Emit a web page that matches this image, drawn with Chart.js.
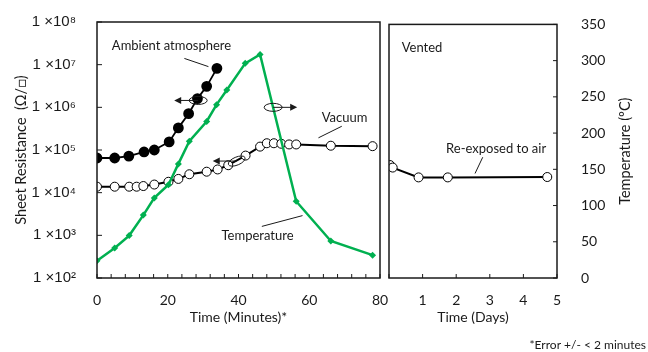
<!DOCTYPE html>
<html>
<head>
<meta charset="utf-8">
<script src="https://cdn.jsdelivr.net/npm/chart.js@4"></script>
<style>
html, body { margin: 0; padding: 0; background: #fff; }
#wrap { position: relative; width: 648px; height: 352px; }
canvas { position: absolute; left: 0; top: 0; }
</style>
</head>
<body>
<div id="wrap">
  <canvas id="js--left" width="648" height="352"></canvas>
  <canvas id="js--right" width="648" height="352"></canvas>
</div>
<script>
// sheet resistance in ambient atmosphere (minutes, ohm/sq)
var ambMin = [0, 5, 9, 13.3, 16.2, 20.4, 23, 25.9, 28.4, 31, 33.9];
var ambRes = [6.5e4, 6.5e4, 7.2e4, 9e4, 1.0e5, 1.55e5, 3.3e5, 7.1e5, 1.6e6, 3.1e6, 8.2e6];
// sheet resistance in vacuum
var vacMin = [0, 5, 9.1, 11.2, 13.1, 16.2, 20.2, 23, 26.1, 31, 34.1, 37.1, 42, 46.1, 48, 50, 52.1, 54.3, 56.3, 66.1, 77.9];
var vacRes = [1.38e4, 1.38e4, 1.38e4, 1.38e4, 1.43e4, 1.55e4, 1.8e4, 2.1e4, 2.7e4, 3.1e4, 3.5e4, 4.4e4, 7.4e4, 1.2e5, 1.44e5, 1.44e5, 1.4e5, 1.35e5, 1.35e5, 1.26e5, 1.23e5];
// temperature (minutes, deg C)
var tempMin = [0, 5, 9.1, 13.1, 16.2, 20.2, 23, 26.1, 31, 33.8, 36.7, 41.9, 46.1, 56.3, 66.1, 77.9];
var tempC = [23.5, 41, 58, 86, 109.5, 127.5, 156, 187, 214, 237, 257, 293.5, 305.6, 105, 50.6, 31.2];
// vented, re-exposed to air (days, ohm/sq)
var ventDays = [0.03, 0.11, 0.88, 1.75, 4.71];
var ventRes = [4.7e4, 4.1e4, 2.4e4, 2.4e4, 2.45e4];

var resTicks = [1e2, 1e3, 1e4, 1e5, 1e6, 1e7, 1e8];
var minuteLabels = [0, 20, 40, 60, 80];

var ink = '#1a1a1a';
var green = '#00B050';
var sup = ['\u2070', '\u00b9', '\u00b2', '\u00b3', '\u2074', '\u2075', '\u2076', '\u2077', '\u2078', '\u2079'];

Chart.defaults.font.family = 'Lato';
Chart.defaults.color = ink;

function pts(xs, ys) {
    return xs.map(function (x, i) { return { x: x, y: ys[i] }; });
}

function arrowHead(c, x, y, dir) {
    c.beginPath();
    c.moveTo(x, y);
    c.lineTo(x - dir * 7, y - 3.5);
    c.lineTo(x - dir * 7, y + 3.5);
    c.closePath();
    c.fill();
}

// box, inward ticks and the hand drawn notes
var framePlugin = {
    id: 'frame',
    afterDraw: function (chart, args, o) {
        var a = chart.chartArea, c = chart.ctx;
        var sx = chart.scales.x, sy = chart.scales.y;
        c.save();
        c.strokeStyle = ink;
        c.fillStyle = ink;
        c.lineWidth = 1.5;
        c.strokeRect(a.left, a.top, a.right - a.left, a.bottom - a.top);

        c.lineWidth = 1;
        c.beginPath();
        sx.ticks.forEach(function (t) {
            var px = sx.getPixelForValue(t.value);
            c.moveTo(px, a.bottom);
            c.lineTo(px, a.bottom - 4);
        });
        var ts = chart.scales[o.tickAxis];
        ts.ticks.forEach(function (t) {
            var py = ts.getPixelForValue(t.value);
            if (o.side === 'left') { c.moveTo(a.left, py); c.lineTo(a.left + 5, py); }
            else { c.moveTo(a.right, py); c.lineTo(a.right - 4, py); }
        });
        c.stroke();

        c.font = '13px Lato';
        c.textAlign = 'left';
        c.textBaseline = 'middle';
        (o.labels || []).forEach(function (n) {
            c.fillText(n.text, sx.getPixelForValue(n.x), sy.getPixelForValue(n.y));
        });

        c.lineWidth = 1;
        (o.leaders || []).forEach(function (l) {
            c.beginPath();
            c.moveTo(sx.getPixelForValue(l[0]), sy.getPixelForValue(l[1]));
            c.lineTo(sx.getPixelForValue(l[2]), sy.getPixelForValue(l[3]));
            c.stroke();
        });

        (o.loops || []).forEach(function (e) {
            var cx = sx.getPixelForValue(e.x), cy = sy.getPixelForValue(e.y);
            c.beginPath();
            c.ellipse(cx, cy, 9, 4, e.tilt, 0, Math.PI * 2);
            c.stroke();
            c.beginPath();
            c.moveTo(cx, cy);
            c.lineTo(cx + e.dir * 20, cy);
            c.stroke();
            arrowHead(c, cx + e.dir * 24, cy, e.dir);
        });

        (o.extra || function () {})(c, a);
        c.restore();
    }
};

var leftChart = new Chart(document.getElementById('js--left'), {
    type: 'line',
    data: {
        datasets: [
            {
                label: 'Temperature',
                data: pts(tempMin, tempC),
                yAxisID: 'yT',
                order: 0,
                borderColor: green,
                backgroundColor: green,
                borderWidth: 2.5,
                pointStyle: 'rectRot',
                pointRadius: 3.5,
                pointBorderWidth: 0,
                lineTension: 0
            },
            {
                label: 'Ambient atmosphere',
                data: pts(ambMin, ambRes),
                yAxisID: 'y',
                order: 1,
                borderColor: 'black',
                backgroundColor: 'black',
                borderWidth: 1.8,
                pointRadius: 4.5,
                lineTension: 0
            },
            {
                label: 'Vacuum',
                data: pts(vacMin, vacRes),
                yAxisID: 'y',
                order: 2,
                borderColor: 'black',
                backgroundColor: 'white',
                borderWidth: 2,
                pointBorderWidth: 1,
                pointRadius: 4.5,
                lineTension: 0
            }
        ]
    },
    options: {
        responsive: false,
        animation: false,
        layout: { padding: { left: 0, right: 268, top: 20, bottom: 0 } },
        plugins: {
            legend: { display: false },
            tooltip: { enabled: false },
            frame: {
                tickAxis: 'y',
                side: 'left',
                labels: [
                    { text: 'Ambient atmosphere', x: 4.2, y: 2.75e7 },
                    { text: 'Vacuum', x: 63.5, y: 5.6e5 },
                    { text: 'Temperature', x: 35.2, y: 1.0e3 }
                ],
                leaders: [
                    [24.7, 1.4e7, 31.5, 9e6],
                    [69.2, 3.6e5, 62.6, 1.93e5],
                    [46.6, 1.62e3, 58.1, 2.9e3]
                ],
                loops: [
                    { x: 28.6, y: 1.45e6, dir: -1, tilt: 0 },
                    { x: 49.8, y: 1.0e6, dir: 1, tilt: 0 },
                    { x: 39.5, y: 5.5e4, dir: -1, tilt: -0.4 }
                ]
            }
        },
        scales: {
            x: {
                type: 'linear',
                min: 0,
                max: 80,
                grid: { display: false },
                border: { display: false },
                ticks: {
                    stepSize: 4,
                    autoSkip: false,
                    maxRotation: 0,
                    padding: 6,
                    font: { size: 14 },
                    callback: function (v) { return minuteLabels.indexOf(v) >= 0 ? String(v) : ''; }
                },
                title: { display: true, text: 'Time (Minutes)*', font: { size: 14 }, padding: { bottom: 26 } },
                afterFit: function (s) { s.height = 74; }
            },
            y: {
                type: 'logarithmic',
                position: 'left',
                min: 1e2,
                max: 1e8,
                grid: { display: false },
                border: { display: false },
                afterBuildTicks: function (s) { s.ticks = resTicks.map(function (v) { return { value: v }; }); },
                ticks: {
                    padding: 13,
                    font: { family: 'Liberation Sans', size: 15 },
                    callback: function (v) { return '1 \u00d710' + sup[Math.round(Math.log10(v))]; }
                },
                title: { display: true, text: 'Sheet Resistance  (\u03a9/\u25a1)', font: { size: 14.5 }, padding: { top: 13 } },
                afterFit: function (s) { s.width = 97; }
            },
            yT: {
                type: 'linear',
                position: 'right',
                display: false,
                min: 0,
                max: 350
            }
        }
    },
    plugins: [framePlugin]
});

var rightChart = new Chart(document.getElementById('js--right'), {
    type: 'line',
    data: {
        datasets: [
            {
                label: 'Vented',
                data: pts(ventDays, ventRes),
                yAxisID: 'y',
                borderColor: 'black',
                backgroundColor: 'white',
                borderWidth: 2,
                pointBorderWidth: 1,
                pointRadius: 4.5,
                lineTension: 0
            }
        ]
    },
    options: {
        responsive: false,
        animation: false,
        layout: { padding: { left: 389, right: 0, top: 20, bottom: 0 } },
        plugins: {
            legend: { display: false },
            tooltip: { enabled: false },
            frame: {
                tickAxis: 'yT',
                side: 'right',
                labels: [
                    { text: 'Vented', x: 0.38, y: 2.75e7 },
                    { text: 'Re-exposed to air', x: 1.7, y: 1.17e5 }
                ],
                leaders: [
                    [2.79, 7.2e4, 2.56, 2.97e4]
                ],
                extra: function (c, a) {
                    c.font = '14.5px Lato';
                    c.textAlign = 'center';
                    c.textBaseline = 'middle';
                    c.save();
                    c.translate(625, (a.top + a.bottom) / 2);
                    c.rotate(-Math.PI / 2);
                    c.fillText('Temperature (\u00baC)', 0, 0);
                    c.restore();
                    c.font = '12px Lato';
                    c.textAlign = 'right';
                    c.fillText('*Error +/- < 2 minutes', 646, 345);
                }
            }
        },
        scales: {
            x: {
                type: 'linear',
                min: 0,
                max: 5,
                grid: { display: false },
                border: { display: false },
                ticks: {
                    stepSize: 1,
                    autoSkip: false,
                    maxRotation: 0,
                    padding: 6,
                    font: { size: 14 },
                    callback: function (v) { return v === 0 ? '' : String(v); }
                },
                title: { display: true, text: 'Time (Days)', font: { size: 14 }, padding: { bottom: 26 } },
                afterFit: function (s) { s.height = 74; }
            },
            y: {
                type: 'logarithmic',
                display: false,
                min: 1e2,
                max: 1e8
            },
            yT: {
                type: 'linear',
                position: 'right',
                min: 0,
                max: 350,
                grid: { display: false },
                border: { display: false },
                ticks: { stepSize: 50, padding: 16, font: { size: 14 } },
                afterFit: function (s) { s.width = 91; }
            }
        }
    },
    plugins: [framePlugin]
});
</script>
</body>
</html>
